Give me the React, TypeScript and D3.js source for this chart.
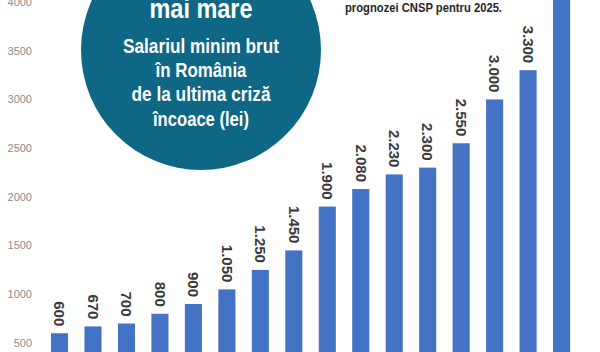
import * as d3 from "d3";
import React from "react";

// Salariul minim brut in Romania (lei)
const years = [2010, 2011, 2012, 2013, 2014, 2015, 2016, 2017, 2018, 2019, 2020, 2021, 2022, 2023, 2024, 2025];
const wages = [600, 670, 700, 800, 900, 1050, 1250, 1450, 1900, 2080, 2230, 2300, 2550, 3000, 3300, 4050];
const yTicks = [500, 1000, 1500, 2000, 2500, 3000, 3500, 4000];
const bubbleLines = ["Salariul minim brut", "în România", "de la ultima criză", "încoace (lei)"];
const bubbleWidths = [156, 91, 139, 96];

const W = 600;
const H = 352;

const ro = d3.formatLocale({ decimal: ",", thousands: ".", grouping: [3], currency: ["", " lei"] });
const fmt = ro.format(",");

const App: React.FC = () => {
  const x = d3.scaleBand<number>().domain(years).range([42.8, 578.3]).paddingInner(0.49).paddingOuter(0.245);
  const y = d3.scaleLinear().domain([0, 4000]).range([391.7, 2]);

  return (
    <div style={{ position: "fixed", left: 0, top: 0 }}>
      <svg width={W} height={H} style={{ display: "block", background: "#fff" }} fontFamily="'Liberation Sans', Arial, sans-serif">
        {/* y axis labels */}
        {yTicks.map((t) => (
          <text key={t} x={32} y={y(t)} dy="0.35em" textAnchor="end" fontSize={11} fill="#8c8c8c">
            {t}
          </text>
        ))}

        {/* bars */}
        {years.map((yr, i) => (
          <rect key={yr} x={x(yr)} y={y(wages[i])} width={x.bandwidth()} height={H - y(wages[i]) + 10} fill="#4472c4" />
        ))}

        {/* value labels, rotated */}
        {years.map((yr, i) => {
          const cx = x(yr)! + x.bandwidth() / 2;
          const top = y(wages[i]) - 7;
          return (
            <text
              key={yr}
              transform={`translate(${cx},${top}) rotate(90)`}
              textAnchor="end"
              dy="0.35em"
              fontSize={15}
              fontWeight="bold"
              fill="#3a3a3a"
            >
              {fmt(wages[i])}
            </text>
          );
        })}

        {/* bubble */}
        <circle cx={201} cy={50} r={120} fill="#0d6785" />
        <text x={201} y={18} textAnchor="middle" fontSize={27} fontWeight="bold" fill="#fff" textLength={103} lengthAdjust="spacingAndGlyphs">
          mai mare
        </text>
        {bubbleLines.map((l, i) => (
          <text
            key={l}
            x={201}
            y={53 + i * 24.2}
            textAnchor="middle"
            fontSize={19.5}
            fontWeight="bold"
            fill="#fff"
            textLength={bubbleWidths[i]}
            lengthAdjust="spacingAndGlyphs"
          >
            {l}
          </text>
        ))}

        {/* note */}
        <text x={345} y={12} fontSize={12.5} fontWeight="bold" fill="#262626" textLength={157} lengthAdjust="spacingAndGlyphs">
          prognozei CNSP pentru 2025.
        </text>
      </svg>
    </div>
  );
};

export default App;
